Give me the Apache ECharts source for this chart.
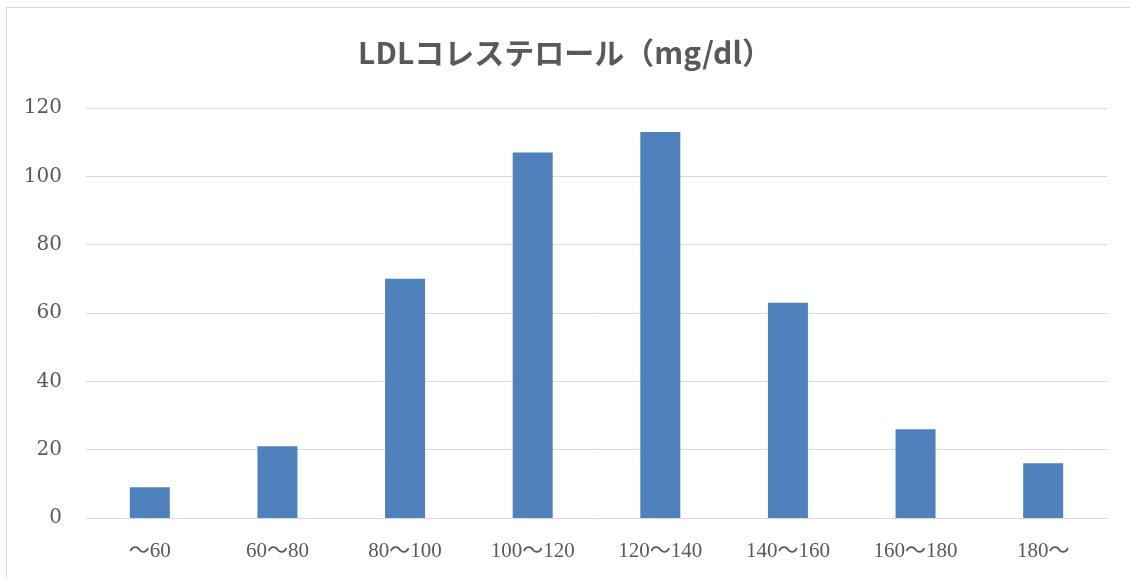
<!DOCTYPE html>
<html>
<head>
<meta charset="utf-8">
<script src="https://cdn.jsdelivr.net/npm/echarts@6/dist/echarts.min.js"></script>
<style>
html,body{margin:0;padding:0;background:#fff;}
#frame{position:absolute;left:6px;top:7px;width:1130px;height:580px;border:1px solid #d9d9d9;box-sizing:border-box;}
#chart{position:absolute;left:0;top:0;width:1130px;height:579px;}
</style>
</head>
<body>
<div id="frame"></div>
<div id="chart"></div>
<script>
const titleText = 'LDLコレステロール（mg/dl）';
const categories = ['～60', '60～80', '80～100', '100～120', '120～140', '140～160', '160～180', '180～'];
const counts = [9, 21, 70, 107, 113, 63, 26, 16];
const yTicks = [0, 20, 40, 60, 80, 100, 120];

const chart = echarts.init(document.getElementById('chart'), null, {renderer: 'canvas'});
chart.setOption({
  animation: false,
  title: {
    text: titleText,
    left: 'center',
    top: 33,
    textStyle: {fontFamily: '"Noto Sans CJK JP", sans-serif', fontSize: 30, fontWeight: 'bold', color: '#595959'}
  },
  grid: {left: 86, right: 23, top: 108, bottom: 61, containLabel: false},
  xAxis: {
    type: 'category',
    data: categories,
    axisLine: {lineStyle: {color: '#d9d9d9', width: 1}},
    axisTick: {show: false},
    axisLabel: {fontFamily: '"Liberation Serif", "Noto Sans CJK JP", serif', fontSize: 21, color: '#595959', margin: 23}
  },
  yAxis: {
    type: 'value',
    min: yTicks[0],
    max: yTicks[yTicks.length - 1],
    interval: 20,
    axisLine: {show: false},
    axisTick: {show: false},
    splitLine: {lineStyle: {color: '#d9d9d9', width: 1}},
    axisLabel: {fontFamily: '"DejaVu Serif", serif', fontSize: 20, color: '#595959', margin: 24}
  },
  series: [{
    type: 'bar',
    data: counts,
    barWidth: 40,
    itemStyle: {color: '#4F81BD'}
  }]
});
</script>
</body>
</html>
